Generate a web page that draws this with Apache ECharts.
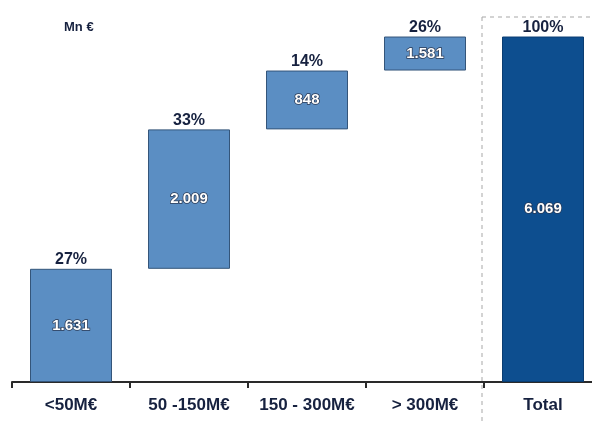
<!DOCTYPE html>
<html><head><meta charset="utf-8">
<script src="https://cdn.jsdelivr.net/npm/echarts@6/dist/echarts.min.js"></script>
<style>html,body{margin:0;padding:0;background:#fff;overflow:hidden}#c{width:602px;height:425px}</style>
</head><body><div id="c"></div>
<script>
const categories = ['<50M€', '50 -150M€', '150 - 300M€', '> 300M€', 'Total'];
// heights of the segments as drawn in the reference (the 4th block is drawn shortened)
const drawnHeights = [1631, 2009, 848, 490];
const valueLabels = ['1.631', '2.009', '848', '1.581', '6.069'];
const shareLabels = ['27%', '33%', '14%', '26%', '100%'];
const unitLabel = 'Mn €';

const total = drawnHeights.reduce((a, b) => a + b, 0);
const bases = [];
let acc = 0;
drawnHeights.forEach(v => { bases.push(acc); acc += v; });
bases.push(0);
const heights = drawnHeights.concat([total]);

const chart = echarts.init(document.getElementById('c'));
const lightBlue = '#5b8ec3', darkBlue = '#0d4e8f';
const font = 'Liberation Sans, Arial';
chart.setOption({
  animation: false,
  grid: { left: 12, top: 35, bottom: 43, right: 0, containLabel: false },
  xAxis: {
    type: 'category', data: categories,
    axisLine: { lineStyle: { color: '#2a2a2a', width: 2 } },
    axisTick: { show: true, alignWithLabel: false, length: 6, lineStyle: { color: '#2a2a2a', width: 2 } },
    axisLabel: { interval: 0, color: '#16213f', fontWeight: 'bold', fontSize: 17, fontFamily: font, margin: 15 }
  },
  yAxis: { type: 'value', min: 0, max: 5000, show: false, splitLine: { show: false } },
  graphic: [
    { type: 'text', left: 64, top: 21, style: { text: unitLabel, fill: '#16213f', font: 'bold 13px Liberation Sans, Arial' } },
    { type: 'line', shape: { x1: 482, y1: 17, x2: 482, y2: 425 }, style: { stroke: '#a8a8a8', lineWidth: 1, lineDash: [4, 4] } },
    { type: 'line', shape: { x1: 482, y1: 17, x2: 592, y2: 17 }, style: { stroke: '#a8a8a8', lineWidth: 1, lineDash: [4, 4] } }
  ],
  series: [
    {
      type: 'bar', stack: 'w', barWidth: 82, silent: true,
      itemStyle: { color: 'transparent' },
      data: bases
    },
    {
      type: 'bar', stack: 'w', barWidth: 82,
      data: heights.map((v, i) => ({
        value: v,
        itemStyle: i === 4 ? { color: darkBlue, borderColor: '#0a3d72', borderWidth: 1 }
                           : { color: lightBlue, borderColor: '#34557a', borderWidth: 1 }
      })),
      label: {
        show: true, position: 'inside',
        formatter: p => valueLabels[p.dataIndex],
        color: '#ffffff', fontWeight: 'bold', fontSize: 15, fontFamily: font,
        textBorderColor: '#2b3a55', textBorderWidth: 1.5
      }
    },
    {
      type: 'bar', stack: 'w', barWidth: 82, silent: true,
      itemStyle: { color: 'transparent' },
      data: heights.map(() => 0),
      label: {
        show: true, position: 'top', distance: 1,
        formatter: p => shareLabels[p.dataIndex],
        color: '#16213f', fontWeight: 'bold', fontSize: 16, fontFamily: font
      }
    }
  ]
});
</script></body></html>
